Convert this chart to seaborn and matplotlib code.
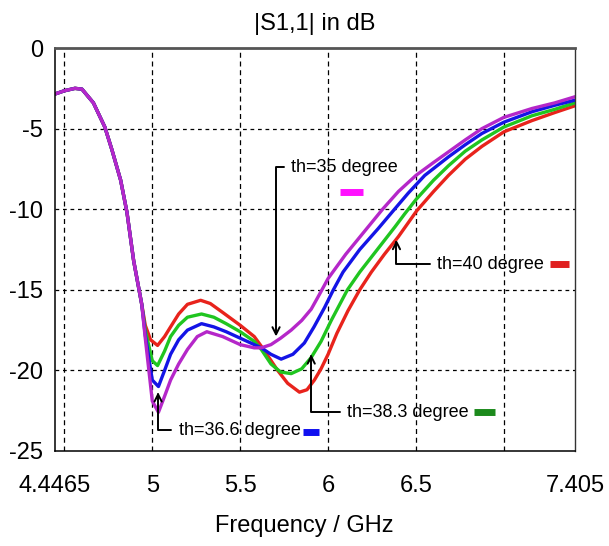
import matplotlib

matplotlib.use("Agg")
import matplotlib.pyplot as plt
import pandas as pd
import seaborn as sns

# shared descent (all four curves coincide here)
x_common = [4.4465, 4.5, 4.56, 4.6, 4.665, 4.73, 4.77, 4.82, 4.856, 4.894, 4.94]
y_common = [-2.85, -2.65, -2.5, -2.55, -3.4, -4.9, -6.3, -8.2, -10.2, -13.2, -15.9]

freq_40 = [4.96, 4.99, 5.03, 5.07, 5.104, 5.15, 5.2, 5.275, 5.33, 5.4, 5.5, 5.58,
           5.62, 5.67, 5.713, 5.77, 5.837, 5.88, 5.922, 5.96, 6.0, 6.05, 6.113,
           6.18, 6.246, 6.32, 6.4, 6.504, 6.6, 6.685, 6.78, 6.875, 7.0, 7.16, 7.29,
           7.405]
s11_40 = [-17.2, -18.1, -18.45, -17.9, -17.3, -16.5, -15.9, -15.65, -15.85, -16.4,
          -17.2, -17.9, -18.5, -19.3, -20.0, -20.8, -21.35, -21.2, -20.6, -19.9,
          -19.0, -17.7, -16.3, -15.0, -13.9, -12.8, -11.7, -10.1, -8.9, -7.9, -6.9,
          -6.1, -5.2, -4.5, -4.0, -3.58]

freq_383 = [4.96, 5.0, 5.03, 5.07, 5.104, 5.15, 5.2, 5.28, 5.35, 5.42, 5.5, 5.58,
            5.62, 5.675, 5.73, 5.79, 5.85, 5.904, 5.96, 6.018, 6.11, 6.18, 6.28,
            6.38, 6.435, 6.5, 6.6, 6.685, 6.78, 6.875, 7.0, 7.16, 7.29, 7.405]
s11_383 = [-17.5, -19.4, -19.7, -18.8, -17.9, -17.2, -16.7, -16.5, -16.7, -17.1,
           -17.6, -18.2, -18.7, -19.6, -20.1, -20.2, -19.9, -19.2, -18.2, -16.9,
           -15.0, -13.9, -12.5, -11.1, -10.3, -9.4, -8.2, -7.3, -6.4, -5.7, -4.9,
           -4.2, -3.8, -3.4]

freq_366 = [4.96, 5.0, 5.035, 5.07, 5.104, 5.15, 5.2, 5.28, 5.35, 5.42, 5.5, 5.58,
            5.62, 5.675, 5.733, 5.8, 5.865, 5.92, 5.98, 6.03, 6.085, 6.18, 6.285,
            6.378, 6.456, 6.55, 6.685, 6.78, 6.875, 7.0, 7.16, 7.29, 7.405]
s11_366 = [-17.8, -20.6, -21.0, -20.0, -19.0, -18.1, -17.5, -17.1, -17.3, -17.6,
           -18.0, -18.4, -18.6, -19.0, -19.3, -19.0, -18.3, -17.3, -16.1, -15.0,
           -13.9, -12.5, -11.2, -10.0, -9.0, -7.9, -6.75, -6.0, -5.3, -4.6, -3.95,
           -3.55, -3.23]

freq_35 = [4.96, 5.0, 5.035, 5.07, 5.104, 5.15, 5.2, 5.256, 5.31, 5.4, 5.5, 5.58,
           5.62, 5.675, 5.73, 5.79, 5.85, 5.904, 5.95, 6.0, 6.1, 6.19, 6.31, 6.4,
           6.5, 6.6, 6.685, 6.78, 6.875, 7.0, 7.16, 7.29, 7.405]
s11_35 = [-18.0, -21.9, -22.6, -21.6, -20.6, -19.6, -18.7, -17.9, -17.6, -17.9,
          -18.4, -18.6, -18.6, -18.4, -18.0, -17.5, -16.9, -16.2, -15.3, -14.3,
          -12.8, -11.6, -10.0, -8.9, -7.9, -7.1, -6.44, -5.7, -5.0, -4.3, -3.75,
          -3.4, -3.02]

series = ["th=40", "th=38.3", "th=36.6", "th=35"]
line_colors = ["#e8231c", "#20c520", "#1414e6", "#b527c9"]
bar_colors = ["#e02020", "#1c8a1c", "#1010f0", "#ff10ff"]

x_ticks = [4.4465, 4.5, 5, 5.5, 6, 6.5, 7, 7.405]
x_labels = ["4.4465", "", "5", "5.5", "6", "6.5", "", "7.405"]
y_ticks = [0, -5, -10, -15, -20, -25]

rows = []
for name, fx, fy in zip(series, [freq_40, freq_383, freq_366, freq_35],
                        [s11_40, s11_383, s11_366, s11_35]):
    for xv, yv in zip(x_common + fx, y_common + fy):
        rows.append({"freq": xv, "s11": yv, "series": name})
df = pd.DataFrame(rows)

sns.set_theme(style="white")
plt.rcParams["font.family"] = ["Liberation Sans", "DejaVu Sans"]
plt.rcParams["text.color"] = "black"
plt.rcParams["axes.labelcolor"] = "black"
plt.rcParams["axes.unicode_minus"] = False

fig = plt.figure(figsize=(6.09, 5.46), dpi=100)
ax = fig.add_axes([0.0903, 0.174, 0.854, 0.738])

sns.lineplot(data=df, x="freq", y="s11", hue="series", hue_order=series,
             palette=line_colors, linewidth=2.4, legend=False, sort=False,
             estimator=None, ax=ax)

ax.set_xlim(4.4465, 7.405)
ax.set_ylim(-25, 0)
ax.set_xticks(x_ticks)
ax.set_xticklabels(x_labels)
ax.set_yticks(y_ticks)
ax.tick_params(axis="both", direction="inout", length=7, width=1, color="black",
               labelsize=17, pad=5, labelcolor="black")
ax.tick_params(axis="x", pad=14)
for gx in [4.5, 5, 5.5, 6, 6.5, 7]:
    ax.axvline(gx, color="black", lw=0.9, ls=(0, (4, 3)), zorder=0)
for gy in [-5, -10, -15, -20]:
    ax.axhline(gy, color="black", lw=0.9, ls=(0, (3, 3)), zorder=0)

for side in ["left", "bottom"]:
    ax.spines[side].set_color("black")
    ax.spines[side].set_linewidth(1.1)
ax.spines["top"].set_color("#555555")
ax.spines["top"].set_linewidth(2)
ax.spines["right"].set_color("#333333")
ax.spines["right"].set_linewidth(1)

ax.set_title("|S1,1| in dB", fontsize=17, pad=13)
ax.set_xlabel("Frequency / GHz", fontsize=17, labelpad=13, x=0.48)
ax.set_ylabel("")

# (label, arrow tip, text anchor, bar colour index, bar x0, x1, y)
notes = [
    ("th=35 degree", (5.704, -17.9), (5.79, -7.4), 3, (6.07, 6.2, -8.95)),
    ("th=40 degree", (6.389, -11.9), (6.62, -13.4), 0, (7.26, 7.37, -13.4)),
    ("th=38.3 degree", (5.904, -19.0), (6.11, -22.6), 1, (6.83, 6.95, -22.6)),
    ("th=36.6 degree", (5.033, -21.35), (5.15, -23.7), 2, (5.86, 5.95, -23.8)),
]
for label, tip, txt, ci, bar in notes:
    ax.annotate(label, xy=tip, xytext=txt, ha="left", va="center", fontsize=13,
                color="black",
                arrowprops=dict(arrowstyle="->", color="black", lw=1.4,
                                shrinkA=3, shrinkB=0,
                                connectionstyle="angle,angleA=0,angleB=90,rad=0"))
    ax.plot([bar[0], bar[1]], [bar[2], bar[2]], color=bar_colors[ci], lw=5,
            solid_capstyle="butt")

fig.savefig("out.png", dpi=100)
